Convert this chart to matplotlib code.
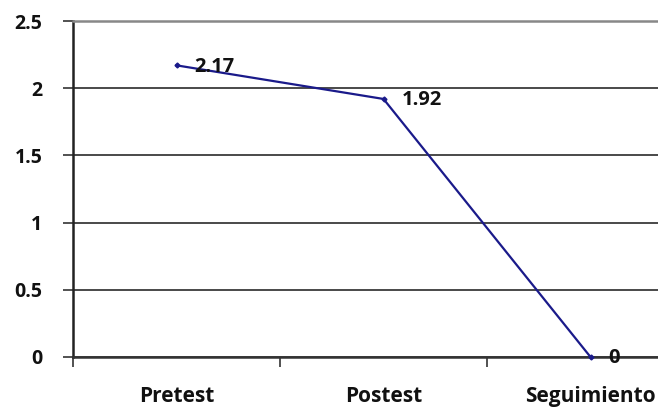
import matplotlib
matplotlib.use("Agg")
import matplotlib.pyplot as plt
from matplotlib.ticker import FixedLocator

categories = ["Pretest", "Postest", "Seguimiento"]
values = [2.17, 1.92, 0]
value_labels = ["2.17", "1.92", "0"]
y_ticks = [0, 0.5, 1, 1.5, 2, 2.5]
y_tick_labels = ["0", "0.5", "1", "1.5", "2", "2.5"]

plt.rcParams["font.family"] = ["Open Sans", "DejaVu Sans"]
FS = 14.5
FW = "bold"

fig = plt.figure(figsize=(6.58, 4.12), dpi=100)
ax = fig.add_axes([73 / 658, 55 / 412, (694 - 73) / 658, (357 - 21) / 412])

x = list(range(len(categories)))
ax.plot(x, values, color="#1a1a8a", lw=1.6, marker="D", ms=2.5,
        clip_on=False, zorder=3)

for xi, v, lab in zip(x, values, value_labels):
    ax.annotate(lab, (xi, v), xytext=(13, -1), textcoords="offset points",
                ha="left", va="center", fontsize=FS, fontweight=FW,
                color="#111111", zorder=4)

ax.set_xlim(-0.5, 2.5)
ax.set_ylim(0, 2.5)

ax.set_yticks(y_ticks)
ax.set_yticklabels(y_tick_labels, fontsize=FS - 0.5, fontweight=FW,
                   color="#111111")
ax.yaxis.grid(True, color="#3a3a3a", lw=1.3)
ax.set_axisbelow(True)

# category ticks sit on the boundaries, labels in the middle
ax.xaxis.set_major_locator(FixedLocator([-0.5, 0.5, 1.5, 2.5]))
ax.xaxis.set_minor_locator(FixedLocator(x))
ax.set_xticklabels([])
ax.set_xticklabels(categories, minor=True, fontsize=FS + 0.5, fontweight=FW,
                   color="#111111")
ax.tick_params(axis="x", which="major", direction="out", length=7,
               width=1.2, color="#333333")
ax.tick_params(axis="x", which="minor", length=0, pad=21)
ax.tick_params(axis="y", direction="out", length=7, width=1.2,
               color="#333333", pad=15)

ax.spines["right"].set_visible(False)
ax.spines["top"].set_color("#888888")
ax.spines["top"].set_linewidth(1.8)
ax.spines["left"].set_color("#222222")
ax.spines["left"].set_linewidth(1.8)
ax.spines["bottom"].set_color("#333333")
ax.spines["bottom"].set_linewidth(1.8)

fig.savefig("out.png", dpi=100)
